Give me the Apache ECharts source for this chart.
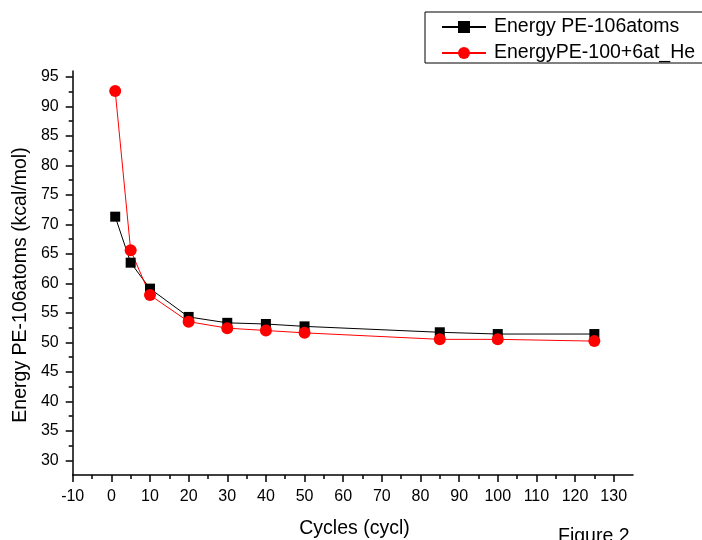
<!DOCTYPE html>
<html>
<head>
<meta charset="utf-8">
<script src="https://cdn.jsdelivr.net/npm/echarts@6/dist/echarts.min.js"></script>
<style>
  html, body { margin: 0; padding: 0; background: #fff; }
  #chart { width: 702px; height: 540px; }
</style>
</head>
<body>
<div id="chart"></div>
<script>
const cycles = [1, 5, 10, 20, 30, 40, 50, 85, 100, 125];
const energyPE106 = [71.3, 63.5, 59.1, 54.3, 53.3, 53.1, 52.7, 51.7, 51.4, 51.4];
const energyPE100He = [92.6, 65.6, 58.0, 53.5, 52.4, 52.0, 51.6, 50.5, 50.5, 50.2];
const seriesNames = ["Energy PE-106atoms", "EnergyPE-100+6at_He"];

const font = "Liberation Sans, Arial, sans-serif";
const chart = echarts.init(document.getElementById("chart"));

// grid 0 holds the data (x -10..135, y 27.5..96), grid 1 only draws the labelled ticks (x -10..130, y 30..95)
chart.setOption({
    animation: false,
    grid: [
        { left: 72.7, right: 69, top: 71, bottom: 65, outerBoundsMode: "none" },
        { left: 72.7, right: 88.3, top: 76.9, bottom: 79.7, outerBoundsMode: "none" }
    ],
    xAxis: [
        {
            gridIndex: 0, type: "value", min: -10, max: 135,
            axisLine: { show: true, onZero: false, lineStyle: { color: "#000", width: 1.5 } },
            axisTick: { show: false }, axisLabel: { show: false }, splitLine: { show: false }
        },
        {
            gridIndex: 1, type: "value", min: -10, max: 130, interval: 10, offset: 14.7,
            axisLine: { show: false, onZero: false },
            axisTick: { show: true, length: 7, lineStyle: { color: "#000", width: 1.5 } },
            minorTick: { show: true, splitNumber: 2, length: 4, lineStyle: { color: "#000", width: 1.5 } },
            axisLabel: { color: "#000", fontSize: 16, fontFamily: font, margin: 14 },
            splitLine: { show: false }
        }
    ],
    yAxis: [
        {
            gridIndex: 0, type: "value", min: 27.5, max: 96,
            axisLine: { show: true, onZero: false, lineStyle: { color: "#000", width: 1.5 } },
            axisTick: { show: false }, axisLabel: { show: false }, splitLine: { show: false }
        },
        {
            gridIndex: 1, type: "value", min: 30, max: 95, interval: 5,
            axisLine: { show: false, onZero: false },
            axisTick: { show: true, length: 7, lineStyle: { color: "#000", width: 1.5 } },
            minorTick: { show: true, splitNumber: 2, length: 4, lineStyle: { color: "#000", width: 1.5 } },
            axisLabel: { color: "#000", fontSize: 16, fontFamily: font, margin: 14 },
            splitLine: { show: false }
        }
    ],
    legend: {
        orient: "vertical", left: 425, top: 12,
        itemWidth: 44, itemHeight: 15, itemGap: 6,
        padding: [5, 40, 0, 16],
        borderColor: "#000", borderWidth: 1, borderRadius: 0,
        textStyle: { color: "#000", fontSize: 19.5, fontFamily: font, padding: [0, 0, 0, 3] },
        data: seriesNames
    },
    graphic: [
        {
            type: "text", x: 21, y: 285, rotation: Math.PI / 2,
            style: { text: "Energy PE-106atoms (kcal/mol)", fill: "#000", font: "19.5px " + font,
                     textAlign: "center", textVerticalAlign: "middle" }
        },
        {
            type: "text", x: 354.5, y: 529,
            style: { text: "Cycles (cycl)", fill: "#000", font: "19.5px " + font,
                     textAlign: "center", textVerticalAlign: "middle" }
        },
        {
            type: "text", x: 558, y: 527,
            style: { text: "Figure 2", fill: "#000", font: "19.5px " + font,
                     textAlign: "left", textVerticalAlign: "top" }
        }
    ],
    series: [
        {
            name: seriesNames[0], type: "line", xAxisIndex: 0, yAxisIndex: 0,
            data: cycles.map((c, i) => [c, energyPE106[i]]),
            symbol: "rect", symbolSize: 10,
            lineStyle: { color: "#000", width: 1 },
            itemStyle: { color: "#000" }
        },
        {
            name: seriesNames[1], type: "line", xAxisIndex: 0, yAxisIndex: 0,
            data: cycles.map((c, i) => [c, energyPE100He[i]]),
            symbol: "circle", symbolSize: 12,
            lineStyle: { color: "#ff0000", width: 1 },
            itemStyle: { color: "#ff0000" }
        }
    ]
});
</script>
</body>
</html>
